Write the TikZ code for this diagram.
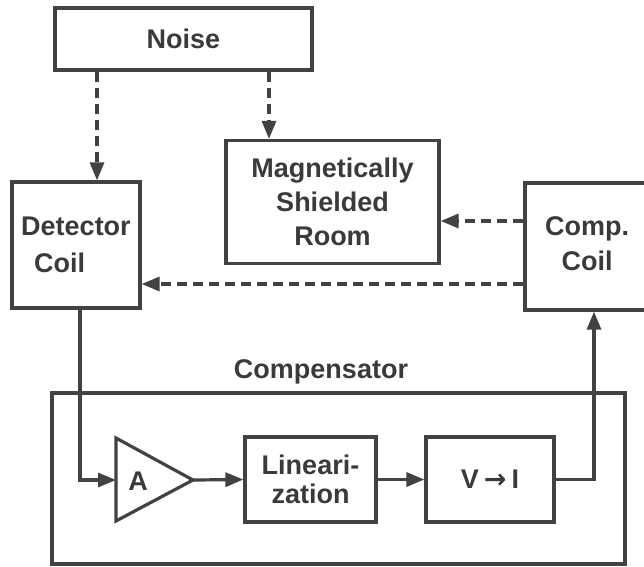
\documentclass[tikz,border=0pt]{standalone}
\usepackage{fontspec}
\setmainfont{Liberation Sans}
\newfontfamily\arrowfont{DejaVu Sans}
\usetikzlibrary{arrows.meta,calc}
\definecolor{ink}{HTML}{424242}
\definecolor{txt}{HTML}{3A3A3A}
\begin{document}
\begin{tikzpicture}[x=1pt,y=-1pt,
  lw/.style={line width=3.2pt,draw=ink},
  blockbox/.style={lw,rectangle,inner sep=0pt,text=txt,font=\fontsize{27}{34}\selectfont\bfseries,align=center},
  conn/.style={lw,-{Triangle[length=18pt,width=14pt]}},
  dasharrow/.style={conn,dash pattern=on 10pt off 6pt},
  lbl/.style={text=txt,font=\fontsize{27}{34}\selectfont\bfseries,align=center,inner sep=0pt}
]
\useasboundingbox (0,0) rectangle (644,566);
% boxes
\node[blockbox,minimum width=257pt,minimum height=62pt] (noise) at (183.5,39) {Noise};
\node[blockbox,minimum width=128pt,minimum height=126pt] (det) at (76,245) {};
\node[lbl,align=left,font=\fontsize{27}{37}\selectfont\bfseries] (dettxt) at (76,245) {Detector\\\hspace{13pt}Coil};
\node[blockbox,minimum width=213pt,minimum height=123pt,font=\fontsize{27}{34}\selectfont\bfseries] (msr) at (332.5,202) {Magnetically\\Shielded\\Room};
\node[blockbox,minimum width=140pt,minimum height=127pt] (comp) at (595,246.5) {};
\node[lbl,font=\fontsize{27}{35}\selectfont\bfseries] (comptxt) at (587,244) {Comp.\\Coil};
% compensator
\node[lbl] (comptitle) at (321,372) {Compensator};
\node[lw,rectangle,minimum width=573pt,minimum height=171pt,inner sep=0pt] (cbox) at (338.5,478.5) {};
\coordinate (ampin) at (116,480);
\coordinate (ampout) at (193,480);
\draw[lw,line join=miter] (116,438) -- (ampout) -- (116,521) -- cycle;
\node[lbl] (amp) at (138,481) {A};
\node[blockbox,minimum width=131pt,minimum height=85pt,font=\fontsize{27}{29}\selectfont\bfseries] (lin) at (310.5,479.5) {Lineari-\\zation};
\node[blockbox,minimum width=128pt,minimum height=85pt] (vi) at (490,479.5) {V\hspace{5pt}{\arrowfont\bfseries →}\hspace{5pt}I};
% helper coordinates
\coordinate (x1) at (97,0);
\coordinate (x2) at (269,0);
\coordinate (y3) at (0,221);
\coordinate (y4) at (0,284);
\coordinate (x5) at (80,0);
\coordinate (x6) at (594,0);
% connectors
\draw[dasharrow] (noise.south -| x1) -- (det.north -| x1);
\draw[dasharrow] (noise.south -| x2) -- (msr.north -| x2);
\draw[dasharrow] (comp.west |- y3) -- (msr.east |- y3);
\draw[dasharrow] (comp.west |- y4) -- (det.east |- y4);
\draw[conn] (det.south -| x5) |- (ampin);
\draw[conn] (ampout) -- (lin.west);
\draw[conn] (lin.east) -- (vi.west);
\draw[conn] (vi.east) -| (comp.south -| x6);
\end{tikzpicture}
\end{document}
